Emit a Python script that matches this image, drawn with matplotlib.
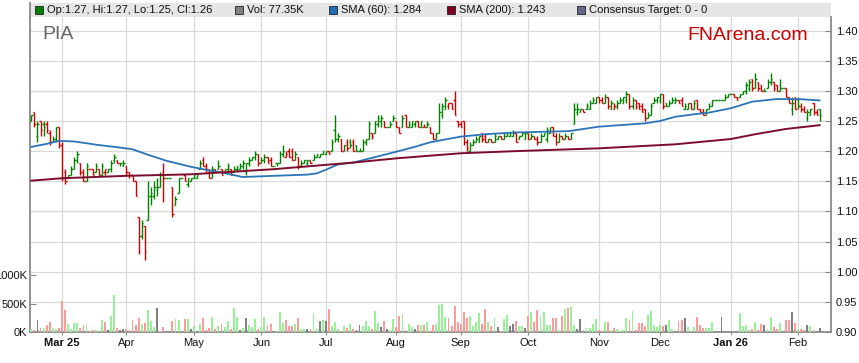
import numpy as np
import pandas as pd
import matplotlib
matplotlib.use("Agg")
import matplotlib.pyplot as plt
from matplotlib.patches import Rectangle
from matplotlib.lines import Line2D

plt.rcParams['font.family'] = ['Liberation Sans', 'DejaVu Sans']

# ---------------- data ----------------
dates = pd.bdate_range("2025-02-17", "2026-02-11")   # 258 weekday slots

opens = [
    1.250, 1.265, 1.225, 1.250, 1.245, 1.245, 1.230, 1.215, 1.220, 1.240,
    1.210, 1.165, 1.155, 1.160, 1.170, 1.185, 1.180, 1.165, 1.150, 1.170, 1.170, 1.165, 1.170, 1.160, 1.165, 1.165, 1.170, 1.185, 1.185, 1.180, 1.175,
    1.175, 1.165, 1.160, 1.150, 1.090, 1.060, 1.075, 1.085, 1.125, 1.125, 1.135, 1.140, 1.165, 1.155, 1.155, 1.140, 1.110, 1.130, 1.155, 1.160, 1.145, 1.150,
    1.155, 1.155, 1.170, 1.185, 1.175, 1.165, 1.155, 1.170, 1.170, 1.170, 1.165, 1.170, 1.170, 1.165, 1.170, 1.170, 1.175, 1.165, 1.180, 1.185, 1.190, 1.195,
    1.180, 1.185, 1.190, 1.185, 1.175, 1.180, 1.180, 1.195, 1.190, 1.200, 1.200, 1.185, 1.190, 1.175, 1.180, 1.180, 1.185, 1.185, 1.190, 1.190, 1.195,
    1.195, 1.200, 1.200, 1.235, 1.220, 1.220, 1.200, 1.215, 1.215, 1.215, 1.210, 1.200, 1.200, 1.215, 1.220, 1.230, 1.230, 1.245, 1.250, 1.250, 1.240, 1.240, 1.250,
    1.250, 1.240, 1.240, 1.260, 1.240, 1.240, 1.245, 1.250, 1.240, 1.240, 1.240, 1.240, 1.230, 1.220, 1.230, 1.260, 1.270, 1.275, 1.280, 1.285, 1.250,
    1.245, 1.250, 1.215, 1.200, 1.210, 1.215, 1.215, 1.230, 1.225, 1.215, 1.220, 1.215, 1.220, 1.225, 1.220, 1.225, 1.225, 1.225, 1.230, 1.220, 1.225, 1.220,
    1.230, 1.220, 1.225, 1.220, 1.215, 1.225, 1.220, 1.230, 1.240, 1.225, 1.215, 1.225, 1.220, 1.225, 1.220, 1.245, 1.265, 1.265, 1.270, 1.270, 1.270, 1.280, 1.280,
    1.290, 1.285, 1.280, 1.290, 1.270, 1.270, 1.275, 1.280, 1.280, 1.285, 1.295, 1.275, 1.285, 1.280, 1.275, 1.270, 1.255, 1.260, 1.280, 1.285,
    1.285, 1.295, 1.280, 1.275, 1.280, 1.280, 1.285, 1.285, 1.270, 1.270, 1.280, 1.270, 1.285, 1.270, 1.270, 1.260, 1.270, 1.275, 1.285, 1.285, 1.285, 1.285, 1.290,
    1.295, 1.295, 1.290, 1.290, 1.295, 1.300, 1.305, 1.320, 1.305, 1.315, 1.310, 1.300, 1.305, 1.315, 1.315, 1.310, 1.300, 1.305, 1.305, 1.290, 1.270, 1.290,
    1.285, 1.275, 1.270, 1.255, 1.260, 1.280, 1.265, 1.270,
]
highs = [
    1.260, 1.265, 1.250, 1.250, 1.250, 1.250, 1.235, 1.225, 1.240, 1.240,
    1.215, 1.170, 1.160, 1.175, 1.190, 1.200, 1.180, 1.170, 1.180, 1.170, 1.170, 1.180, 1.170, 1.180, 1.170, 1.170, 1.185, 1.195, 1.185, 1.180, 1.185,
    1.175, 1.165, 1.160, 1.150, 1.090, 1.085, 1.075, 1.150, 1.140, 1.150, 1.155, 1.165, 1.180, 1.155, 1.155, 1.140, 1.125, 1.155, 1.155, 1.160, 1.155, 1.155,
    1.160, 1.160, 1.185, 1.190, 1.180, 1.170, 1.175, 1.170, 1.185, 1.170, 1.170, 1.180, 1.170, 1.175, 1.175, 1.180, 1.185, 1.180, 1.190, 1.190, 1.200, 1.195,
    1.190, 1.195, 1.190, 1.190, 1.175, 1.180, 1.200, 1.210, 1.200, 1.205, 1.205, 1.200, 1.190, 1.185, 1.185, 1.185, 1.185, 1.195, 1.195, 1.195, 1.200,
    1.200, 1.200, 1.220, 1.260, 1.230, 1.220, 1.210, 1.220, 1.220, 1.220, 1.210, 1.205, 1.220, 1.220, 1.250, 1.230, 1.250, 1.260, 1.260, 1.250, 1.240, 1.250, 1.260,
    1.250, 1.240, 1.260, 1.260, 1.250, 1.250, 1.250, 1.250, 1.250, 1.245, 1.250, 1.240, 1.230, 1.230, 1.280, 1.280, 1.290, 1.280, 1.280, 1.300, 1.250,
    1.250, 1.250, 1.220, 1.215, 1.220, 1.225, 1.225, 1.230, 1.230, 1.220, 1.220, 1.230, 1.225, 1.225, 1.230, 1.230, 1.230, 1.235, 1.230, 1.225, 1.230, 1.230,
    1.230, 1.230, 1.225, 1.225, 1.230, 1.230, 1.240, 1.240, 1.240, 1.230, 1.230, 1.225, 1.230, 1.225, 1.230, 1.280, 1.280, 1.270, 1.270, 1.280, 1.285, 1.290, 1.290,
    1.290, 1.290, 1.295, 1.290, 1.285, 1.280, 1.285, 1.290, 1.290, 1.300, 1.295, 1.290, 1.285, 1.280, 1.280, 1.270, 1.265, 1.280, 1.290, 1.290,
    1.295, 1.295, 1.280, 1.285, 1.290, 1.290, 1.285, 1.290, 1.280, 1.280, 1.280, 1.285, 1.285, 1.270, 1.270, 1.270, 1.280, 1.285, 1.285, 1.285, 1.285, 1.295, 1.295,
    1.295, 1.295, 1.290, 1.295, 1.300, 1.315, 1.320, 1.320, 1.330, 1.315, 1.310, 1.305, 1.320, 1.330, 1.315, 1.310, 1.320, 1.305, 1.305, 1.290, 1.290, 1.290,
    1.290, 1.280, 1.275, 1.270, 1.270, 1.280, 1.270, 1.270,
]
lows = [
    1.250, 1.240, 1.215, 1.225, 1.225, 1.230, 1.210, 1.215, 1.215, 1.205,
    1.150, 1.145, 1.155, 1.160, 1.170, 1.180, 1.160, 1.150, 1.150, 1.170, 1.160, 1.165, 1.160, 1.160, 1.160, 1.165, 1.165, 1.180, 1.180, 1.175, 1.175,
    1.160, 1.155, 1.150, 1.125, 1.030, 1.055, 1.020, 1.085, 1.110, 1.120, 1.125, 1.140, 1.115, 1.155, 1.155, 1.090, 1.110, 1.130, 1.155, 1.150, 1.140, 1.150,
    1.155, 1.155, 1.170, 1.175, 1.165, 1.155, 1.155, 1.165, 1.170, 1.160, 1.165, 1.165, 1.160, 1.165, 1.165, 1.170, 1.170, 1.160, 1.175, 1.185, 1.185, 1.175,
    1.180, 1.180, 1.180, 1.175, 1.175, 1.175, 1.180, 1.190, 1.190, 1.190, 1.185, 1.185, 1.170, 1.175, 1.180, 1.175, 1.180, 1.185, 1.190, 1.190, 1.195,
    1.195, 1.195, 1.200, 1.215, 1.215, 1.200, 1.200, 1.200, 1.205, 1.200, 1.200, 1.200, 1.200, 1.210, 1.220, 1.220, 1.230, 1.240, 1.240, 1.240, 1.240, 1.240, 1.250,
    1.240, 1.230, 1.240, 1.240, 1.240, 1.240, 1.240, 1.240, 1.240, 1.240, 1.240, 1.230, 1.220, 1.220, 1.230, 1.255, 1.270, 1.270, 1.270, 1.260, 1.240,
    1.240, 1.210, 1.200, 1.200, 1.210, 1.215, 1.215, 1.215, 1.215, 1.215, 1.215, 1.215, 1.220, 1.220, 1.220, 1.225, 1.225, 1.225, 1.215, 1.220, 1.225, 1.220,
    1.220, 1.220, 1.220, 1.210, 1.215, 1.225, 1.215, 1.230, 1.225, 1.210, 1.215, 1.220, 1.220, 1.220, 1.220, 1.245, 1.260, 1.265, 1.265, 1.270, 1.270, 1.280, 1.280,
    1.280, 1.280, 1.280, 1.270, 1.270, 1.270, 1.270, 1.280, 1.280, 1.280, 1.270, 1.270, 1.270, 1.270, 1.265, 1.250, 1.255, 1.260, 1.280, 1.280,
    1.280, 1.270, 1.275, 1.275, 1.280, 1.280, 1.280, 1.275, 1.270, 1.270, 1.270, 1.270, 1.270, 1.265, 1.260, 1.260, 1.270, 1.275, 1.285, 1.285, 1.285, 1.285, 1.290,
    1.295, 1.290, 1.285, 1.290, 1.295, 1.295, 1.300, 1.300, 1.305, 1.300, 1.300, 1.300, 1.305, 1.310, 1.300, 1.300, 1.300, 1.305, 1.290, 1.280, 1.260, 1.270,
    1.270, 1.265, 1.265, 1.250, 1.260, 1.260, 1.260, 1.250,
]
closes = [
    1.260, 1.245, 1.245, 1.235, 1.240, 1.235, 1.215, 1.220, 1.240, 1.210,
    1.155, 1.150, 1.160, 1.170, 1.185, 1.195, 1.165, 1.150, 1.175, 1.170, 1.160, 1.175, 1.160, 1.175, 1.170, 1.170, 1.180, 1.190, 1.180, 1.180, 1.180,
    1.165, 1.160, 1.150, 1.125, 1.060, 1.080, 1.035, 1.125, 1.130, 1.140, 1.140, 1.160, 1.155, 1.155, 1.155, 1.095, 1.120, 1.155, 1.155, 1.150, 1.155, 1.155,
    1.160, 1.160, 1.180, 1.175, 1.170, 1.155, 1.170, 1.165, 1.175, 1.160, 1.170, 1.175, 1.160, 1.170, 1.175, 1.175, 1.180, 1.180, 1.185, 1.190, 1.195, 1.180,
    1.185, 1.190, 1.180, 1.175, 1.175, 1.180, 1.195, 1.200, 1.195, 1.190, 1.185, 1.195, 1.175, 1.180, 1.185, 1.185, 1.180, 1.190, 1.195, 1.195, 1.200,
    1.200, 1.195, 1.215, 1.220, 1.225, 1.200, 1.210, 1.205, 1.210, 1.200, 1.200, 1.200, 1.215, 1.220, 1.245, 1.225, 1.250, 1.255, 1.255, 1.240, 1.240, 1.245, 1.255,
    1.240, 1.230, 1.255, 1.240, 1.245, 1.250, 1.250, 1.240, 1.250, 1.240, 1.245, 1.230, 1.220, 1.230, 1.265, 1.275, 1.285, 1.280, 1.270, 1.260, 1.245,
    1.240, 1.215, 1.205, 1.210, 1.215, 1.220, 1.225, 1.220, 1.215, 1.220, 1.215, 1.225, 1.225, 1.220, 1.225, 1.230, 1.230, 1.230, 1.215, 1.225, 1.230, 1.230,
    1.220, 1.225, 1.220, 1.215, 1.225, 1.230, 1.235, 1.240, 1.225, 1.215, 1.225, 1.220, 1.225, 1.220, 1.230, 1.270, 1.270, 1.270, 1.265, 1.275, 1.280, 1.285, 1.290,
    1.285, 1.280, 1.290, 1.275, 1.280, 1.275, 1.280, 1.285, 1.290, 1.295, 1.275, 1.285, 1.275, 1.270, 1.265, 1.255, 1.260, 1.275, 1.285, 1.290,
    1.295, 1.275, 1.275, 1.280, 1.285, 1.285, 1.280, 1.275, 1.275, 1.280, 1.270, 1.280, 1.270, 1.265, 1.260, 1.270, 1.275, 1.285, 1.285, 1.285, 1.285, 1.290, 1.295,
    1.295, 1.290, 1.285, 1.295, 1.300, 1.310, 1.315, 1.305, 1.320, 1.305, 1.300, 1.300, 1.315, 1.320, 1.305, 1.300, 1.305, 1.305, 1.290, 1.280, 1.280, 1.270,
    1.275, 1.270, 1.265, 1.265, 1.270, 1.265, 1.260, 1.260,
]
volumes_k = [
    54, 30, 220, 77, 77, 131, 184, 77, 60, 77,
    541, 381, 149, 60, 167, 167, 77, 131, 149, 10, 42, 42, 10, 220, 184, 42, 292, 649, 77, 42, 60,
    60, 42, 220, 131, 256, 149, 167, 381, 202, 89, 417, 24, 95, 0, 0, 202, 238, 220, 0, 235, 235, 60,
    112, 24, 141, 247, 41, 70, 270, 59, 100, 141, 94, 200, 59, 424, 265, 41, 70, 247, 118, 82, 229, 59,
    94, 270, 118, 147, 0, 10, 359, 165, 212, 112, 112, 147, 247, 59, 59, 59, 59, 341, 59, 188, 212,
    200, 412, 112, 182, 59, 20, 112, 70, 135, 59, 41, 129, 112, 188, 112, 59, 376, 153, 82, 200, 59, 35, 235,
    94, 288, 324, 35, 141, 94, 59, 129, 129, 129, 176, 24, 129, 141, 470, 500, 270, 247, 112, 465, 182,
    141, 353, 247, 288, 100, 176, 341, 141, 406, 176, 100, 247, 94, 20, 229, 306, 100, 141, 200, 100, 100, 70,
    288, 347, 182, 394, 288, 347, 118, 118, 247, 247, 35, 288, 412, 429, 447, 129, 59, 229, 41, 65, 70, 141, 235,
    35, 10, 182, 170, 41, 70, 59, 10, 41, 253, 218, 376, 41, 165, 153, 100, 306, 376, 118, 82,
    129, 112, 129, 218, 59, 24, 200, 218, 253, 94, 24, 94, 270, 129, 76, 76, 76, 182, 0, 0, 270, 0, 0,
    0, 0, 0, 341, 112, 129, 41, 59, 182, 41, 147, 129, 59, 270, 88, 59, 165, 0, 218, 218, 359, 165,
    59, 59, 41, 129, 112, 41, 0, 77.35,
]

# moving averages (bar number, value)
sma60_bar = [0, 5, 9, 14, 22, 28, 33, 38, 44, 48, 52, 57, 62, 69, 79, 90, 93, 96, 100, 105, 112, 119,
             125, 130, 140, 148, 158, 175, 185, 200, 205, 210, 216, 221, 228, 235, 243, 251, 257]
sma60_val = [1.207, 1.212, 1.217, 1.216, 1.210, 1.2065, 1.203, 1.194, 1.184, 1.179, 1.174, 1.169,
             1.1645, 1.157, 1.159, 1.161, 1.163, 1.169, 1.178, 1.181, 1.190, 1.199, 1.207, 1.2146,
             1.224, 1.228, 1.231, 1.233, 1.2405, 1.246, 1.250, 1.257, 1.261, 1.264, 1.271, 1.282,
             1.2864, 1.286, 1.284]
sma200_bar = [0, 10, 31, 52, 79, 105, 119, 140, 158, 185, 210, 228, 236, 246, 257]
sma200_val = [1.151, 1.155, 1.159, 1.1615, 1.170, 1.181, 1.188, 1.1964, 1.200, 1.2046, 1.2113,
              1.220, 1.228, 1.2367, 1.243]

price_ticks = [0.90, 0.95, 1.00, 1.05, 1.10, 1.15, 1.20, 1.25, 1.30, 1.35, 1.40]
volume_ticks = [0, 500, 1000]
volume_tick_labels = ["0K", "500K", "1000K"]
ticker = "PIA"
brand = "FNArena.com"

# ---------------- layout helpers ----------------
W, H = 859, 363
def fx(px):
    return px / W
def fy(py):
    return 1 - py / H

GREEN, RED = "#008000", "#cc0000"
VGREEN, VRED, VGRAY = "#98f098", "#ff9a9a", "#808080"
SPINE = "#8a8a8a"
GRID = "#d9d9d9"

fig = plt.figure(figsize=(W / 100, H / 100), dpi=100)
L, R, T, B = 30, 831, 17, 332
ax = fig.add_axes([fx(L), fy(B), fx(R) - fx(L), fy(T) - fy(B)])
axv = ax.twinx()
ax.set_zorder(1)
axv.set_zorder(2)
axv.patch.set_visible(False)

o = np.array(opens); h = np.array(highs); l = np.array(lows); c = np.array(closes)
v = np.array(volumes_k, dtype=float)
n = len(c)
x = np.arange(n)
prev = np.r_[o[0], c[:-1]]
up = c >= prev
pcols = np.where(up, GREEN, RED)
vcols = np.where(c > prev, VGREEN, np.where(c < prev, VRED, VGRAY))

# price bars (OHLC)
ax.vlines(x, l, h, colors=pcols, lw=1.0, zorder=3)
ax.hlines(o, x - 0.5, x, colors=pcols, lw=1.0, zorder=3)
ax.hlines(c, x, x + 0.5, colors=pcols, lw=1.0, zorder=3)

# moving averages
ax.plot(sma60_bar, sma60_val, color="#2a74b8", lw=1.3, zorder=4, solid_joinstyle="round")
ax.plot(sma200_bar, sma200_val, color="#7d0c2c", lw=1.4, zorder=4, solid_joinstyle="round")

# volume
axv.bar(x, v, width=0.62, color=vcols, linewidth=0)

# scales
ax.set_xlim(-0.43, 260.7)
ax.set_ylim(0.90, 1.4224)
axv.set_ylim(0, 5575)

# x ticks at month starts
month_id = dates.year * 12 + dates.month
starts = np.flatnonzero(np.r_[False, np.diff(month_id) != 0])
labels, bold = [], []
for j, s in enumerate(starts):
    d = dates[s]
    if j == 0 or d.month == 1:
        labels.append(d.strftime("%b %y"))
        bold.append(True)
    else:
        labels.append(d.strftime("%b"))
        bold.append(False)
ax.set_xticks(starts)
ax.set_xticklabels(labels)
for t, b in zip(ax.get_xticklabels(), bold):
    if b:
        t.set_fontweight("bold")

ax.set_yticks(price_ticks)
ax.set_yticklabels([f"{p:.2f}" for p in price_ticks])
ax.yaxis.tick_right()
axv.yaxis.tick_left()
axv.set_yticks(volume_ticks)
axv.set_yticklabels(volume_tick_labels)

ax.grid(True, color=GRID, lw=0.9, zorder=0)
ax.set_axisbelow(True)

ax.tick_params(axis="y", direction="in", length=4, color=SPINE, labelsize=8, pad=3.5, labelcolor="#111111")
axv.tick_params(axis="y", direction="in", length=4, color=SPINE, labelsize=8, pad=2, labelcolor="#111111")
ax.tick_params(axis="x", direction="out", length=2.5, color=SPINE, labelsize=8, pad=1.5, labelcolor="#111111",
               bottom=True, labelbottom=True)

for sp in ["left", "right", "bottom"]:
    ax.spines[sp].set_color(SPINE)
    ax.spines[sp].set_linewidth(1.3)
ax.spines["top"].set_visible(False)
for sp in axv.spines.values():
    sp.set_visible(False)

# legend band
fig.patches.append(Rectangle((fx(L), fy(T)), fx(R) - fx(L), fy(3) - fy(T),
                             transform=fig.transFigure, facecolor="#e6e6e6",
                             edgecolor="none", zorder=0))
fig.lines.append(Line2D([fx(L), fx(L)], [fy(3), fy(T)], transform=fig.transFigure,
                        color=SPINE, lw=1.3))

legend_items = [
    (f"Op:{o[-1]:.2f}, Hi:{h[-1]:.2f}, Lo:{l[-1]:.2f}, Cl:{c[-1]:.2f}", GREEN, 35),
    (f"Vol: {v[-1]:.2f}K", "#808080", 235),
    (f"SMA (60): {sma60_val[-1]:.3f}", "#1f6db3", 329),
    (f"SMA (200): {sma200_val[-1]:.3f}", "#800020", 447),
    ("Consensus Target: 0 - 0", "#66668a", 577),
]
for text, col, xs in legend_items:
    fig.patches.append(Rectangle((fx(xs), fy(14)), 8 / W, 8 / H, transform=fig.transFigure,
                                 facecolor=col, edgecolor="#222222", lw=0.6, zorder=2))
    fig.text(fx(xs + 12), fy(10), text, fontsize=8, va="center", ha="left", color="#111111")

fig.text(fx(42), fy(39), ticker, fontsize=14, color="#666666", ha="left", va="baseline")
fig.text(fx(808), fy(40), brand, fontsize=14, color="#cc0000", ha="right", va="baseline")

fig.savefig("out.png", dpi=100)
